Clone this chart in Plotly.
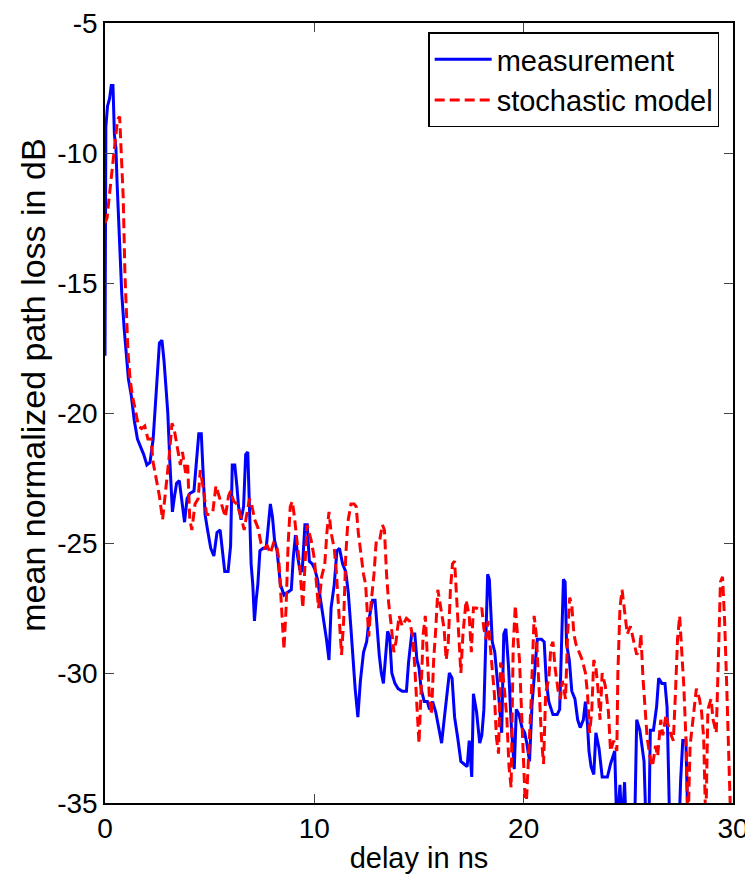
import plotly.graph_objects as go

# measurement (blue solid)
meas_delay = [0.0, 0.04, 0.12, 0.22, 0.3, 0.38, 0.45, 0.52, 0.58, 0.65, 0.72, 0.8, 0.92, 1.02, 1.12,
              1.25, 1.4, 1.55, 1.7, 1.85, 2.0, 2.15, 2.3, 2.4, 2.5, 2.6, 2.72, 2.82, 2.92, 3.0,
              3.1, 3.22, 3.32, 3.42, 3.55, 3.68, 3.8, 3.92, 4.05, 4.25, 4.38, 4.48, 4.6, 4.7, 4.78,
              4.9, 5.05, 5.2, 5.35, 5.5, 5.6, 5.72, 5.88, 6.0, 6.08, 6.2, 6.3, 6.38, 6.5, 6.62,
              6.72, 6.82, 6.9, 6.98, 7.06, 7.14, 7.22, 7.3, 7.4, 7.55, 7.7, 7.8, 7.9, 8.0, 8.1,
              8.22, 8.38, 8.55, 8.72, 8.9, 9.0, 9.1, 9.2, 9.3, 9.42, 9.55, 9.66, 9.76, 9.9, 10.02,
              10.15, 10.3, 10.45, 10.58, 10.7, 10.8, 10.95, 11.08, 11.2, 11.35, 11.5, 11.62, 11.75, 11.85, 11.95,
              12.08, 12.2, 12.35, 12.5, 12.62, 12.78, 12.9, 13.0, 13.1, 13.2, 13.3, 13.4, 13.5, 13.6, 13.7,
              13.85, 14.0, 14.2, 14.4, 14.5, 14.65, 14.8, 14.9, 15.0, 15.1, 15.25, 15.4, 15.5, 15.65, 15.8,
              15.95, 16.08, 16.2, 16.3, 16.45, 16.58, 16.7, 16.85, 17.0, 17.15, 17.3, 17.4, 17.52, 17.6, 17.75,
              17.9, 18.0, 18.1, 18.2, 18.28, 18.36, 18.42, 18.5, 18.62, 18.72, 18.8, 18.95, 19.05, 19.15, 19.28,
              19.4, 19.55, 19.65, 19.78, 19.92, 20.05, 20.15, 20.28, 20.4, 20.55, 20.65, 20.85, 20.98, 21.08, 21.2,
              21.4, 21.6, 21.72, 21.8, 21.9, 21.98, 22.05, 22.18, 22.3, 22.45, 22.58, 22.7, 22.85, 22.95, 23.05,
              23.12, 23.22, 23.35, 23.45, 23.6, 23.75, 24.0, 24.15, 24.35, 24.45, 24.6, 24.7, 24.82, 24.9, 25.3,
              25.4, 25.55, 25.65, 25.75, 25.85, 25.98, 26.05, 26.2, 26.35, 26.45, 26.6, 26.75, 26.85, 26.98, 27.42,
              27.5, 27.6, 27.75, 27.85]
meas_db = [-17.8, -9.0, -8.2, -7.9, -7.4, -7.4, -9.3, -9.8, -11.2, -12.7, -14.4, -15.4, -16.8, -17.8, -18.7,
           -19.3, -20.3, -21.0, -21.3, -21.6, -22.0, -21.9, -21.0, -19.7, -18.2, -17.3, -17.2, -18.0, -19.1, -20.0,
           -21.9, -23.8, -23.2, -22.7, -22.6, -23.5, -24.2, -23.3, -23.1, -23.0, -21.9, -20.8, -20.8, -22.3, -23.9,
           -24.5, -25.2, -25.5, -24.6, -24.5, -25.2, -26.1, -26.1, -25.1, -22.0, -22.0, -22.8, -23.6, -24.1, -23.6,
           -21.6, -21.5, -23.6, -25.8, -26.6, -28.0, -27.2, -26.6, -25.3, -25.2, -25.2, -24.3, -23.5, -24.0, -24.9,
           -25.3, -26.6, -27.0, -26.9, -26.8, -25.5, -24.7, -25.5, -26.0, -26.1, -24.3, -24.3, -25.7, -25.8, -26.0,
           -26.4, -27.2, -27.9, -28.7, -29.5, -27.5, -26.6, -25.3, -25.2, -25.8, -26.1, -26.9, -28.3, -29.7, -30.6,
           -31.7, -30.3, -29.2, -28.8, -27.9, -27.2, -27.2, -28.3, -29.3, -30.0, -30.4, -29.4, -28.4, -28.6, -30.0,
           -30.4, -30.6, -30.7, -30.7, -29.6, -28.5, -28.5, -29.5, -29.8, -30.6, -31.1, -31.1, -31.4, -31.1, -31.5,
           -32.2, -32.7, -31.8, -31.0, -30.0, -30.2, -31.7, -32.5, -33.4, -33.5, -33.6, -32.6, -34.0, -30.8, -31.5,
           -32.7, -32.4, -31.4, -28.7, -26.2, -26.4, -27.4, -28.8, -29.2, -30.0, -30.8, -32.3, -28.5, -28.3, -29.8,
           -31.9, -33.7, -31.4, -31.6, -32.1, -32.3, -32.7, -33.4, -31.2, -29.8, -28.7, -28.7, -28.8, -30.3, -31.1,
           -31.6, -31.6, -31.4, -29.0, -26.4, -26.5, -28.9, -29.5, -30.7, -31.0, -31.8, -32.1, -31.8, -31.1, -32.0,
           -33.0, -33.6, -33.9, -32.3, -32.9, -34.0, -34.0, -33.5, -33.0, -36.0, -34.3, -36.0, -34.2, -36.0, -36.0,
           -31.8, -32.2, -32.9, -33.4, -36.0, -36.0, -32.2, -32.2, -31.3, -30.2, -30.4, -30.4, -31.3, -36.0, -36.0,
           -34.1, -32.6, -32.6, -36.0]

# stochastic model (red dashed)
model_delay = [0.0, 0.1, 0.2, 0.3, 0.4, 0.5, 0.6, 0.7, 0.8, 0.87, 0.95, 1.05, 1.1, 1.2, 1.3,
               1.45, 1.6, 1.75, 1.9, 2.05, 2.2, 2.3, 2.45, 2.6, 2.75, 2.9, 3.05, 3.2, 3.3, 3.45,
               3.6, 3.7, 3.85, 3.95, 4.05, 4.15, 4.3, 4.45, 4.55, 4.7, 4.85, 5.0, 5.15, 5.3, 5.45,
               5.6, 5.75, 5.9, 6.0, 6.15, 6.3, 6.5, 6.65, 6.75, 6.9, 7.0, 7.15, 7.3, 7.45, 7.6,
               7.75, 7.9, 8.05, 8.2, 8.3, 8.4, 8.55, 8.65, 8.75, 8.85, 8.95, 9.05, 9.15, 9.3, 9.45,
               9.55, 9.65, 9.75, 9.85, 10.0, 10.1, 10.2, 10.35, 10.5, 10.6, 10.7, 10.8, 10.95, 11.05, 11.15,
               11.3, 11.4, 11.5, 11.6, 11.75, 11.9, 12.0, 12.1, 12.2, 12.35, 12.45, 12.6, 12.7, 12.85, 12.95,
               13.1, 13.25, 13.35, 13.45, 13.55, 13.65, 13.8, 13.9, 14.05, 14.2, 14.4, 14.55, 14.7, 14.8, 14.9,
               15.0, 15.1, 15.2, 15.3, 15.4, 15.5, 15.6, 15.7, 15.8, 15.9, 16.0, 16.1, 16.2, 16.3, 16.4,
               16.5, 16.6, 16.7, 16.8, 16.9, 17.0, 17.1, 17.25, 17.4, 17.5, 17.6, 17.75, 17.9, 18.0, 18.1,
               18.2, 18.3, 18.45, 18.6, 18.7, 18.8, 18.9, 19.0, 19.1, 19.2, 19.3, 19.4, 19.5, 19.6, 19.7,
               19.8, 19.9, 20.0, 20.1, 20.2, 20.35, 20.5, 20.6, 20.75, 20.85, 20.95, 21.05, 21.2, 21.3, 21.4,
               21.5, 21.65, 21.75, 21.85, 22.0, 22.1, 22.2, 22.3, 22.4, 22.5, 22.65, 22.8, 22.95, 23.05, 23.15,
               23.25, 23.35, 23.45, 23.55, 23.65, 23.75, 23.9, 24.05, 24.15, 24.3, 24.45, 24.5, 24.6, 24.7, 24.8,
               24.95, 25.1, 25.25, 25.4, 25.55, 25.6, 25.7, 25.8, 25.9, 26.05, 26.15, 26.3, 26.4, 26.55, 26.65,
               26.8, 26.9, 27.05, 27.15, 27.25, 27.35, 27.45, 27.55, 27.65, 27.75, 27.85, 27.95, 28.1, 28.25, 28.4,
               28.5, 28.6, 28.7, 28.8, 28.95, 29.05, 29.2, 29.3, 29.4, 29.5, 29.6, 29.7, 29.8, 29.9, 30.0]
model_db = [-12.7, -12.5, -11.7, -11.0, -10.1, -9.4, -8.7, -8.6, -10.2, -11.7, -14.6, -16.6, -17.7, -18.7, -19.3,
            -19.9, -20.5, -20.6, -20.5, -21.0, -21.0, -21.9, -22.6, -23.2, -24.1, -23.0, -21.8, -20.4, -20.6, -21.3,
            -22.0, -21.5, -22.3, -22.0, -24.1, -24.5, -23.5, -23.3, -22.2, -22.9, -23.9, -23.9, -23.8, -22.8, -23.2,
            -23.6, -24.0, -23.2, -23.0, -23.4, -23.5, -24.0, -24.5, -24.0, -23.3, -23.5, -24.1, -24.4, -25.0, -25.2,
            -25.1, -25.4, -25.0, -25.1, -25.6, -27.0, -29.1, -27.5, -25.0, -23.6, -23.4, -24.0, -24.8, -25.9, -27.5,
            -26.0, -24.3, -24.6, -24.9, -25.6, -26.5, -27.5, -26.3, -25.8, -24.6, -23.8, -24.6, -25.2, -26.1, -27.5,
            -29.3, -28.0, -25.5, -24.2, -23.5, -23.5, -23.6, -24.6, -25.3, -26.2, -26.6, -28.6, -27.4, -26.2, -25.0,
            -25.0, -24.3, -24.5, -26.2, -27.3, -28.0, -29.2, -28.8, -27.8, -28.2, -27.9, -28.0, -28.6, -29.8, -31.3,
            -32.7, -30.7, -28.5, -27.8, -29.5, -31.0, -31.6, -29.5, -28.3, -26.8, -27.3, -27.8, -28.3, -29.5, -28.8,
            -26.8, -25.8, -25.7, -27.2, -28.8, -30.0, -28.5, -27.2, -27.8, -29.2, -27.5, -27.5, -27.6, -27.5, -28.3,
            -28.7, -28.0, -29.5, -30.8, -32.5, -33.1, -29.6, -30.0, -30.8, -31.8, -33.6, -34.4, -29.0, -27.4, -28.5,
            -29.5, -31.5, -33.5, -35.5, -33.8, -31.2, -27.8, -28.5, -30.8, -32.5, -33.5, -30.8, -30.2, -29.0, -28.8,
            -29.8, -30.7, -31.0, -30.3, -31.0, -28.5, -27.1, -27.4, -28.5, -28.9, -29.2, -29.5, -30.0, -30.8, -32.3,
            -31.5, -29.5, -29.8, -30.6, -31.8, -30.0, -30.5, -31.5, -33.0, -32.6, -33.0, -30.0, -27.5, -26.8, -27.5,
            -28.5, -28.2, -28.8, -29.3, -29.0, -28.5, -30.2, -31.3, -32.5, -33.3, -33.6, -32.8, -33.2, -31.8, -32.4,
            -31.6, -32.0, -32.4, -32.6, -30.8, -28.7, -27.8, -29.0, -30.5, -32.5, -36.0, -32.8, -31.8, -30.6, -31.0,
            -31.5, -32.5, -36.0, -31.4, -31.0, -31.8, -32.3, -29.5, -26.5, -26.3, -28.0, -30.5, -33.5, -36.0, -36.0]

x_ticks = [0, 10, 20, 30]
y_ticks = [-35, -30, -25, -20, -15, -10, -5]
y_tick_text = ['-35', '-30', '-25', '-20', '-15', '-10', '-5']

font_family = 'Liberation Sans, Arial, sans-serif'

fig = go.Figure()

fig.add_trace(go.Scatter(
    x=meas_delay, y=meas_db, mode='lines', name='measurement',
    line=dict(color='#0000ff', width=3)
))

fig.add_trace(go.Scatter(
    x=model_delay, y=model_db, mode='lines', name='stochastic model',
    line=dict(color='#ff0000', width=3, dash='10px,5px')
))

# page body adds an 8px offset, so margins are shifted accordingly
fig.update_layout(
    width=753, height=885,
    margin=dict(l=97, r=28, t=15, b=90),
    plot_bgcolor='white', paper_bgcolor='white',
    font=dict(family=font_family, size=28, color='black'),
    legend=dict(x=0.978, y=0.988, xanchor='right', yanchor='top',
                bordercolor='black', borderwidth=1.5, bgcolor='white',
                itemwidth=57, font=dict(size=29)),
)

fig.update_xaxes(
    range=[0, 30], tickvals=x_ticks, ticks='inside', ticklen=9,
    showline=True, linecolor='black', linewidth=1.5, mirror='ticks',
    showgrid=False, zeroline=False, automargin=False, ticklabeloverflow='allow',
    title=dict(text='delay in ns', standoff=4, font=dict(size=29))
)
fig.update_yaxes(
    range=[-35, -5], tickvals=y_ticks, ticktext=y_tick_text, ticks='inside', ticklen=9,
    showline=True, linecolor='black', linewidth=1.5, mirror='ticks',
    showgrid=False, zeroline=False, automargin=False, ticklabeloverflow='allow'
)

# y title sits a bit above the axis centre in the original
fig.add_annotation(
    text='mean normalized path loss in dB', textangle=-90,
    xref='paper', yref='paper', x=0, y=0.535, xanchor='center', yanchor='middle',
    xshift=-72, showarrow=False, font=dict(size=34)
)

fig.write_html('out.html')
